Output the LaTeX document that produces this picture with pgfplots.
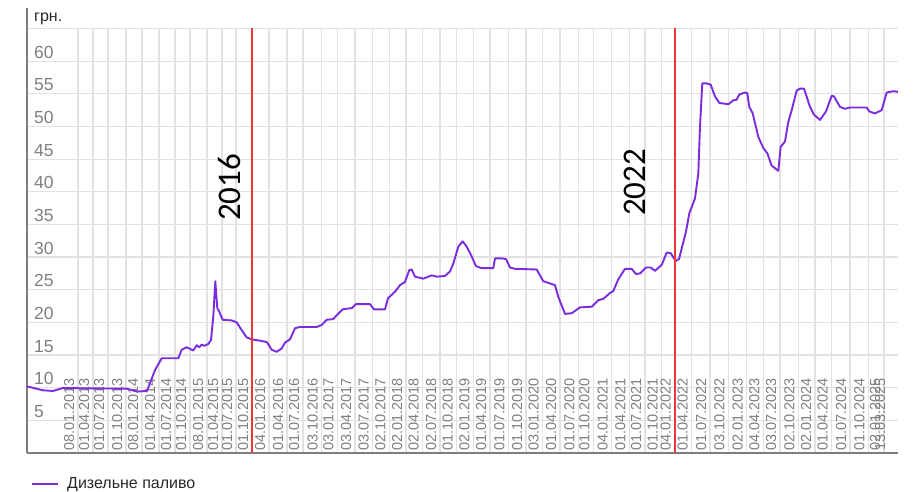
\documentclass[border=0pt]{standalone}
\usepackage{fontspec}
\setmainfont{Liberation Sans}
\newfontfamily\calib{Carlito}
\usepackage{pgfplots}
\pgfplotsset{compat=1.18}
\definecolor{diesel}{RGB}{122,44,222}
\definecolor{redline}{RGB}{235,55,55}
\definecolor{gridc}{RGB}{226,226,226}
\definecolor{axisc}{RGB}{125,125,125}
\definecolor{tickc}{RGB}{128,128,128}
\definecolor{txt}{RGB}{40,40,40}
\begin{document}
\begin{tikzpicture}[x=1pt,y=1pt]
\useasboundingbox[fill=white] (0,0) rectangle (913,492);
\begin{axis}[
  at={(27pt,39pt)}, anchor=south west,
  scale only axis, width=871pt, height=424.5pt,
  xmin=27, xmax=898, ymin=0, ymax=65,
  axis x line=bottom, axis y line=left,
  axis line style={draw=axisc, line width=1.6pt, -},
  major tick length=0pt,
  grid=major,
  major grid style={draw=gridc, line width=1.2pt},
  ytick={5,10,15,20,25,30,35,40,45,50,55,60,65},
  yticklabels={5,10,15,20,25,30,35,40,45,50,55,60,{}},
  yticklabel style={font=\fontsize{17.5}{17.5}\selectfont, text=tickc, inner sep=0pt, xshift=7pt, yshift=3pt, anchor=base west},
  xtick={78,93,108,126,142,159,175,190,207,222,236,269,287,303,321.7,337.3,355,372.7,389.3,406,422.7,440,456.7,473.3,490,508.3,526,542.7,560,578.3,593.3,611.7,629.3,645,661.7,691.7,710,728.3,746.7,763.3,780,798.3,815,831.7,850,868.3,884},
  xticklabels={08.01.2013,01.04.2013,01.07.2013,01.10.2013,08.01.2014,01.04.2014,01.07.2014,01.10.2014,08.01.2015,01.04.2015,01.07.2015,04.01.2016,01.04.2016,01.07.2016,03.10.2016,03.01.2017,03.04.2017,03.07.2017,02.10.2017,02.01.2018,02.04.2018,02.07.2018,01.10.2018,02.01.2019,01.04.2019,01.07.2019,01.10.2019,03.01.2020,01.04.2020,01.07.2020,01.10.2020,04.01.2021,01.04.2021,01.07.2021,01.10.2021,01.04.2022,01.07.2022,03.10.2022,02.01.2023,04.04.2023,03.07.2023,02.10.2023,02.01.2024,01.04.2024,01.07.2024,01.10.2024,02.01.2025},
  extra x ticks={252,674.5,889},
  extra x tick labels={01.10.2015,04.01.2022,13.03.2025},
  extra x tick style={grid=none},
  xticklabel style={font=\fontsize{14.5}{14.5}\selectfont, text=tickc, inner sep=0pt, xshift=-4pt, yshift=2pt, rotate=90, anchor=base west},
  clip=false,
]
\addplot[diesel, line width=1.9pt, line join=round] coordinates {
(27,10.2) (35,9.9) (43,9.6) (53,9.5) (63,9.95) (90,9.9) (127,9.85) (137,9.4) (147,9.5)
(150,10.7) (155,12.7) (161.7,14.5) (178.3,14.5) (181.7,15.8) (186.7,16.2) (193.3,15.7)
(196.7,16.5) (199.3,16.2) (201.7,16.6) (204.3,16.4) (208.3,16.7) (211,17.3) (213.3,20.9)
(215.3,26.3) (217.3,22.2) (219.3,21.6) (222.7,20.4) (231.7,20.3) (236.7,20.0) (241.7,18.8)
(246.7,17.7) (251.7,17.4) (260,17.2) (266.7,17.0) (269,16.5) (271.7,15.8) (276.7,15.5)
(281.7,16.0) (285,16.9) (290,17.4) (295,19.1) (300,19.3) (316.7,19.3) (321.7,19.6)
(326.7,20.4) (333.3,20.5) (336.7,21.1) (342.7,22.0) (352,22.2) (356,22.8) (370,22.8)
(374,22.0) (385,22.0) (388,23.7) (395,24.7) (400,25.7) (405,26.2) (409.3,28.0) (411.7,28.1)
(415,27.0) (423.3,26.7) (431.7,27.2) (436.7,27.0) (445,27.1) (450,27.8) (453.3,29.0)
(458.3,31.6) (462.7,32.4) (466.7,31.6) (471.7,30.1) (476,28.6) (481.7,28.3) (493.3,28.3)
(495,29.8) (501.7,29.8) (506,29.7) (510,28.4) (515,28.2) (536.7,28.1) (543.3,26.3)
(555,25.7) (558.3,23.9) (565,21.3) (571.7,21.4) (580,22.3) (591.7,22.4) (598.3,23.4)
(603.3,23.6) (610,24.5) (613.3,24.8) (618.3,26.6) (625,28.2) (631.7,28.2) (636,27.4)
(640,27.5) (646,28.4) (650.7,28.4) (655,27.9) (661.7,28.8) (666.7,30.7) (670.7,30.6)
(675.7,29.4) (679,29.7) (686,33.9) (689.3,36.7) (695,39.0) (698.3,42.8) (700,50.0)
(702.3,56.6) (706.7,56.6) (710.7,56.4) (715,54.6) (719.3,53.6) (728.3,53.4) (733.3,54.0)
(736.7,54.1) (739.3,54.9) (745,55.2) (747.3,55.1) (749.3,53.0) (752.7,52.0) (758.3,48.4)
(763.3,46.7) (767.3,45.9) (771.7,44.0) (778.3,43.2) (780.7,46.9) (785,47.7) (788.3,50.7)
(791.7,52.5) (796.7,55.5) (800,55.8) (804,55.8) (810,53.0) (814,51.8) (820,51.0)
(826,52.3) (831.7,54.7) (834,54.6) (840,53.0) (845,52.7) (850,52.9) (866.7,52.9)
(869.3,52.3) (875,52.0) (881.7,52.5) (886.7,55.2) (893.3,55.4) (898,55.3)
};
\addplot[draw=redline, line width=2pt] coordinates {(251.5,0) (251.5,65)};
\addplot[draw=redline, line width=2pt] coordinates {(674.5,0) (674.5,65)};
\end{axis}
% y-axis line extension above the plot
\draw[axisc, line width=1.6pt] (27,463.5) -- (27,484);
% unit label
\node[anchor=base west, inner sep=0pt, text=txt, font=\fontsize{16}{16}\selectfont] at (34,470.3) {грн.};
% year annotations
\node[rotate=90, inner sep=0pt, font=\calib\fontsize{33}{33}\selectfont] at (229,304.5) {2016};
\node[rotate=90, inner sep=0pt, font=\calib\fontsize{33}{33}\selectfont] at (635,309.5) {2022};
% legend
\draw[diesel, line width=1.9pt] (32,8) -- (58,8);
\node[anchor=base west, inner sep=0pt, text=txt, font=\fontsize{16}{16}\selectfont] at (67,3) {Дизельне паливо};
\end{tikzpicture}
\end{document}
